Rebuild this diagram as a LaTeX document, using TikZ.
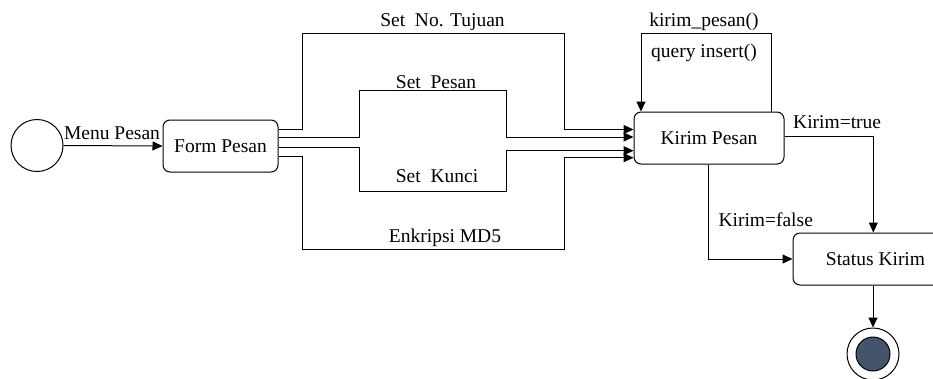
\documentclass[tikz,border=0pt]{standalone}
\usepackage{fontspec}
\setmainfont{Liberation Serif}
\usetikzlibrary{arrows.meta}
\definecolor{endfill}{HTML}{44546A}
\begin{document}
\begin{tikzpicture}[x=1pt,y=-1pt,
  font=\fontsize{19.5}{22}\selectfont,
  line width=1pt,
  arr/.style={-{Triangle[length=10pt,width=9pt]}},
  state/.style={draw,rounded corners=7pt,minimum height=52pt,inner sep=0pt},
  lbl/.style={inner sep=0pt,anchor=base},
  lblw/.style={inner sep=0pt,anchor=base west}]
\useasboundingbox (0,0) rectangle (933,378);
% nodes
\node[draw,circle,minimum size=52pt,inner sep=0pt] (init) at (37,145.5) {};
\node[state,minimum width=115pt] (form) at (220.5,146) {Form Pesan};
\node[state,minimum width=150pt] (kirim) at (709,138) {Kirim Pesan};
\node[state,minimum width=165pt] (status) at (875.5,259) {Status Kirim};
\node[draw,circle,minimum size=52pt,inner sep=0pt] (final) at (873,354) {};
\node[draw,circle,fill=endfill,minimum size=34pt,inner sep=0pt] (finalin) at (final.center) {};
% connectors
\draw[arr] (init.east) -- (form.west);
\draw[arr] ([yshift=16.5pt]form.east) -| (302,33.7) -| (564,129.5) -- ([yshift=8.5pt]kirim.west);
\draw[arr] ([yshift=9pt]form.east) -| (359,90.3) -| (506,137) -- ([yshift=1pt]kirim.west);
\draw[arr] ([yshift=-1.5pt]form.east) -| (359,191.3) -| (506,150.7) -- ([yshift=-12.7pt]kirim.west);
\draw[arr] ([yshift=-10pt]form.east) -| (302,249.3) -| (564,157.7) -- ([yshift=-19.7pt]kirim.west);
\draw[arr] ([xshift=62.7pt]kirim.north) -- ++(0,-78.3) -| ([xshift=-68pt]kirim.north);
\draw[arr] ([yshift=1.3pt]kirim.east) -| ([xshift=-2.2pt]status.north);
\draw[arr] ([xshift=-0.7pt]kirim.south) |- (status.west);
\draw[arr] ([xshift=-2.5pt]status.south) -- (final.north);
% labels
\node[lbl] (lmenu) at (112,139) {Menu Pesan};
\node[lbl] (lno) at (442.5,26) {Set\ \ No. Tujuan};
\node[lbl] (lpesan) at (436,88) {Set\ \ Pesan};
\node[lbl] (lkunci) at (437,182.5) {Set\ \ Kunci};
\node[lbl] (lmd5) at (445,242.5) {Enkripsi MD5};
\node[lbl] (lkp) at (704,26) {kirim\_pesan()};
\node[lbl] (lqi) at (704,57) {query insert()};
\node[lblw] (ltrue) at (792.7,128) {Kirim=true};
\node[lblw] (lfalse) at (718,226.7) {Kirim=false};
\end{tikzpicture}
\end{document}
